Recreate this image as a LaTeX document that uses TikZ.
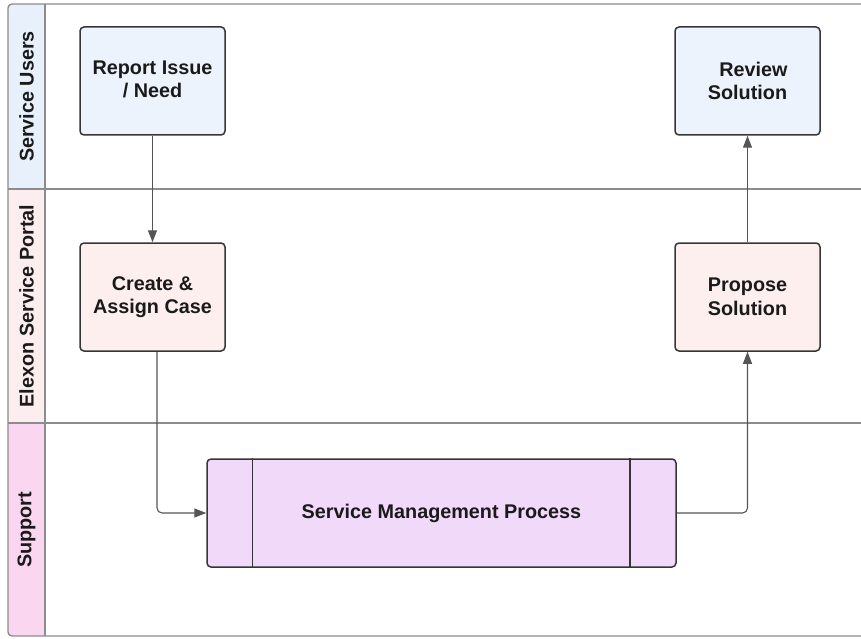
\documentclass[tikz,border=0pt]{standalone}
\usepackage{fontspec}
\setmainfont{Liberation Sans}
\usetikzlibrary{arrows.meta}

\definecolor{laneline}{HTML}{8C8C8C}
\definecolor{boxline}{HTML}{363636}
\definecolor{arrowline}{HTML}{555555}
\definecolor{usershead}{HTML}{E8F0FC}
\definecolor{portalhead}{HTML}{FCEEEE}
\definecolor{supporthead}{HTML}{FAD6F0}
\definecolor{usersbox}{HTML}{EDF3FD}
\definecolor{portalbox}{HTML}{FCEFEE}
\definecolor{procbox}{HTML}{F0D9F9}
\definecolor{textcol}{HTML}{1A1A1A}

\tikzset{
  lane/.style={draw=laneline, line width=1.4pt},
  lanelabel/.style={rotate=90, text=textcol, font=\bfseries\fontsize{19.8}{23}\selectfont},
  stepbox/.style={draw=boxline, line width=1.5pt, rounded corners=4pt,
    minimum width=145, minimum height=108, align=center, text=textcol,
    font=\bfseries\fontsize{19.8}{23.5}\selectfont},
  flow/.style={draw=arrowline, line width=1.1pt, rounded corners=5pt,
    -{Triangle[length=12pt,width=9pt]}}
}

\begin{document}
\begin{tikzpicture}[x=1pt,y=-1pt]
\useasboundingbox (0,0) rectangle (861,639);
\clip (0,0) rectangle (861,639);

% lane header fills
\begin{scope}
  \clip[rounded corners=4pt] (8,4) rectangle (880,636);
  \fill[usershead] (8,4) rectangle (45,189);
  \fill[portalhead] (8,189) rectangle (45,423);
  \fill[supporthead] (8,423) rectangle (45,636);
\end{scope}

% pool frame and lane separators
\draw[lane, rounded corners=4pt] (8,4) rectangle (880,636);
\draw[lane] (45,4) -- (45,636);
\draw[lane] (8,189) -- (880,189);
\draw[lane] (8,423) -- (880,423);

% lane titles
\node[lanelabel] (lusers) at (26.5,96.5) {Service Users};
\node[lanelabel] (lportal) at (26.5,306) {Elexon Service Portal};
\node[lanelabel] (lsupport) at (26.5,530) {Support};

% process steps
\node[stepbox, fill=usersbox] (report) at (152.5,81) {Report Issue\\/ Need\vphantom{p}};
\node[stepbox, fill=portalbox] (create) at (152.5,297) {Create \&\\Assign Case};
\node[stepbox, fill=usersbox] (review) at (747.5,81) {\hspace{12pt}Review\\Solution};
\node[stepbox, fill=portalbox] (propose) at (747.5,297) {Propose\\Solution};
\node[stepbox, fill=procbox, minimum width=469] (proc) at (441.5,513)
  {Service Management Process};
\draw[boxline, line width=1.5pt] ([xshift=46]proc.north west) -- ([xshift=46]proc.south west);
\draw[boxline, line width=1.5pt] ([xshift=-47]proc.north east) -- ([xshift=-47]proc.south east);

% connectors
\draw[flow] (report.south) -- (create.north);
\draw[flow] ([xshift=4.5]create.south) |- (proc.west);
\draw[flow] (proc.east) -| (propose.south);
\draw[flow] (propose.north) -- (review.south);
\end{tikzpicture}
\end{document}
